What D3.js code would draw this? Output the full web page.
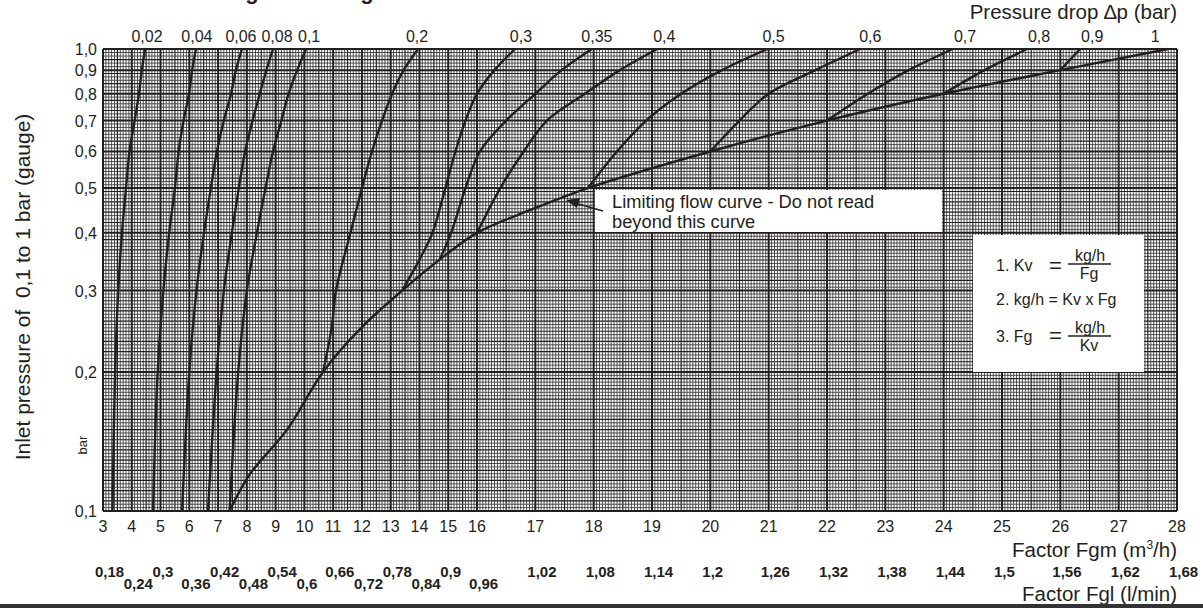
<!DOCTYPE html>
<html><head><meta charset="utf-8">
<script src="https://cdn.jsdelivr.net/npm/d3@7"></script>
<style>
body{margin:0;background:#fff}
text{font-family:"Liberation Sans",Arial,sans-serif;fill:#231f20}
</style>
</head><body>
<svg id="c" width="1203" height="608"></svg>
<script>
// ---------- data ----------
const fgmTicks = [3,4,5,6,7,8,9,10,11,12,13,14,15,16,17,18,19,20,21,22,23,24,25,26,27,28];
const fglLabels = ["0,18","0,24","0,3","0,36","0,42","0,48","0,54","0,6","0,66","0,72","0,78","0,84","0,9","0,96",
                   "1,02","1,08","1,14","1,2","1,26","1,32","1,38","1,44","1,5","1,56","1,62","1,68"];
const pTicks = [0.1,0.2,0.3,0.4,0.5,0.6,0.7,0.8,0.9,1.0];
const pLabels = ["0,1","0,2","0,3","0,4","0,5","0,6","0,7","0,8","0,9","1,0"];
const dpLabels = ["0,02","0,04","0,06","0,08","0,1","0,2","0,3","0,35","0,4","0,5","0,6","0,7","0,8","0,9","1"];

// each curve: inlet pressure values (bar) and Fgm values
const pFull = [1.0,0.9,0.8,0.7,0.6,0.5,0.4,0.3,0.2,0.1];
const dp002 = [4.46,4.35,4.25,4.1,3.92,3.8,3.66,3.53,3.42,3.33];
const dp004 = [6.23,6.1,5.99,5.8,5.63,5.5,5.3,5.1,4.9,4.74];
const dp006 = [7.83,7.62,7.45,7.2,6.96,6.75,6.51,6.25,6.0,5.75];
const dp008 = [8.91,8.68,8.45,8.2,7.94,7.72,7.48,7.2,6.95,6.65];
const dp01  = [10.06,9.75,9.45,9.2,8.91,8.65,8.35,8.0,7.7,7.4];
const dp02_p = [1.0,0.9,0.8,0.7,0.6,0.5,0.4,0.3,0.25,0.2];
const dp02   = [13.95,13.45,13.05,12.7,12.35,12.0,11.6,11.1,10.95,10.65];
const dp03_p = [1.0,0.9,0.8,0.7,0.6,0.5,0.4,0.35,0.3];
const dp03   = [16.65,16.3,16.0,15.6,15.25,14.9,14.45,14.0,13.4];
const dp035_p = [1.0,0.9,0.8,0.7,0.6,0.5,0.4,0.35];
const dp035   = [17.97,17.45,17.0,16.5,16.05,15.6,15.1,14.7];
const dp04_p = [1.0,0.9,0.8,0.7,0.6,0.5,0.4];
const dp04   = [19.09,18.45,17.85,17.2,16.8,16.4,16.0];
const dp05_p = [1.0,0.9,0.8,0.7,0.6,0.5];
const dp05   = [20.98,20.2,19.5,18.9,18.4,17.9];
const dp06_p = [1.0,0.9,0.8,0.7,0.6];
const dp06   = [22.57,21.8,21.0,20.5,20.0];
const dp07_p = [1.0,0.9,0.8,0.7];
const dp07   = [24.16,23.4,22.7,22.0];
const dp08_p = [1.0,0.9,0.8];
const dp08   = [25.43,24.7,24.0];
const dp09_p = [1.0,0.9];
const dp09   = [26.34,26.0];
const limit_p = [0.1,0.12,0.15,0.2,0.25,0.3,0.35,0.4,0.45,0.5,0.6,0.7,0.8,0.9,1.0];
const limit_f = [7.4,8.1,9.4,10.65,12.0,13.4,14.7,16.0,16.95,17.9,20.0,22.0,24.0,26.0,27.85];

// ---------- drawing ----------
const svg = d3.select("#c");
const ink = "#231f20";
const x = d3.scaleLinear().domain([3,16,28]).range([103,477,1177]);
const y = d3.scaleLog().domain([0.1,1]).range([511,49]);

// grid (graph-paper look)
const g = svg.append("g");
const vLines = [];
for (let i = 30; i <= 160; i++) vLines.push({v:i/10, w: i%10===0?2:(i%5===0?1.2:0.75)});
for (let i = 321; i <= 560; i++) vLines.push({v:i/20, w: i%20===0?2:(i%10===0?1.2:0.75)});
g.selectAll(".vl").data(vLines).join("line")
  .attr("x1",d=>x(d.v)).attr("x2",d=>x(d.v)).attr("y1",y(1)).attr("y2",y(0.1))
  .attr("stroke",ink).attr("stroke-width",d=>d.w);
const hLines = [];
for (let k = 0; k < pTicks.length - 1; k++) {
  const a = pTicks[k], b = pTicks[k+1];
  const n = Math.max(3, Math.round((y(a) - y(b)) / 3.4));
  for (let j = 1; j < n; j++) {
    const v = Math.exp(Math.log(a) + (Math.log(b) - Math.log(a)) * j / n);
    hLines.push({v, w: j % 3 === 0 ? 1.2 : 0.75});
  }
}
pTicks.forEach(v => hLines.push({v, w:2}));
g.selectAll(".hl").data(hLines).join("line")
  .attr("x1",x(3)).attr("x2",x(28)).attr("y1",d=>y(d.v)).attr("y2",d=>y(d.v))
  .attr("stroke",ink).attr("stroke-width",d=>d.w);

// curves
const curves = [
  [pFull,dp002],[pFull,dp004],[pFull,dp006],[pFull,dp008],[pFull,dp01],
  [dp02_p,dp02],[dp03_p,dp03],[dp035_p,dp035],[dp04_p,dp04],[dp05_p,dp05],
  [dp06_p,dp06],[dp07_p,dp07],[dp08_p,dp08],[dp09_p,dp09],[limit_p,limit_f]
];
const line = d3.line().x(d=>x(d[1])).y(d=>y(d[0])).curve(d3.curveCatmullRom.alpha(0.5));
svg.append("g").selectAll("path").data(curves).join("path")
  .attr("d",c=>line(c[0].map((p,i)=>[p,c[1][i]])))
  .attr("fill","none").attr("stroke",ink).attr("stroke-width",2.4);

// top labels (above the top end of each curve)
const topF = curves.slice(0,14).map(c=>c[1][0]).concat([limit_f[limit_f.length-1]]);
const labelNudge = [2,1,-1,4,3,-1,6,5,7,6,10,12,12,12,-13];
svg.append("g").selectAll("text").data(dpLabels).join("text")
  .attr("x",(d,i)=>x(topF[i]) + labelNudge[i]).attr("y",42)
  .attr("text-anchor","middle").attr("font-size",16).text(d=>d);
svg.append("text").attr("x",1177).attr("y",19).attr("text-anchor","end")
  .attr("font-size",20.5).text("Pressure drop \u2206p (bar)");

// left axis
svg.append("g").selectAll("text").data(pTicks).join("text")
  .attr("x",97).attr("y",d=>y(d)+6).attr("text-anchor","end").attr("font-size",16)
  .text((d,i)=>pLabels[i]);
svg.append("text").attr("transform","translate(30,287) rotate(-90)").attr("text-anchor","middle")
  .attr("font-size",21).attr("xml:space","preserve").text("Inlet pressure of  0,1 to 1 bar (gauge)");
svg.append("text").attr("transform","translate(87,445) rotate(-90)").attr("text-anchor","middle")
  .attr("font-size",13).text("bar");

// bottom axis
svg.append("g").selectAll("text").data(fgmTicks).join("text")
  .attr("x",d=>x(d)).attr("y",532).attr("text-anchor","middle").attr("font-size",16).text(d=>d);
svg.append("text").attr("x",1177).attr("y",557).attr("text-anchor","end").attr("font-size",20.5)
  .html('Factor Fgm (m<tspan dy="-8" font-size="12">3</tspan><tspan dy="8">/h)</tspan>');
svg.append("g").selectAll("text").data(fglLabels).join("text")
  .attr("x",(d,i)=>x(fgmTicks[i])-8)
  .attr("y",(d,i)=> (i<14 && i%2===1) ? 589 : 577)
  .attr("font-size",15).attr("font-weight","bold").text(d=>d);
svg.append("text").attr("x",1177).attr("y",601).attr("text-anchor","end").attr("font-size",20.5)
  .text("Factor Fgl (l/min)");
svg.append("rect").attr("x",0).attr("y",604).attr("width",1203).attr("height",4).attr("fill","#333");

// title (cut off at the top edge, as in the source)
svg.append("text").attr("x",194).attr("y",-1).attr("font-size",22).attr("font-weight","bold")
  .text("Sizing chart for gas");

// annotation box
svg.append("rect").attr("x",595).attr("y",190).attr("width",347).attr("height",42).attr("fill","#fff");
svg.append("text").attr("x",612).attr("y",208).attr("font-size",18.3).text("Limiting flow curve - Do not read");
svg.append("text").attr("x",612).attr("y",228).attr("font-size",18.3).text("beyond this curve");
svg.append("line").attr("x1",603).attr("y1",211).attr("x2",575).attr("y2",203).attr("stroke",ink).attr("stroke-width",1.5);
svg.append("path").attr("d","M566,200 L580,198 L577,208 Z").attr("fill",ink);

// formula box
const fb = svg.append("g");
fb.append("rect").attr("x",973).attr("y",235).attr("width",171).attr("height",137).attr("fill","#fff");
const fs = 16;
fb.append("text").attr("x",996).attr("y",271).attr("font-size",fs).text("1. Kv");
fb.append("text").attr("x",1049).attr("y",273).attr("font-size",22).text("=");
fb.append("text").attr("x",1090).attr("y",261).attr("text-anchor","middle").attr("font-size",fs).text("kg/h");
fb.append("line").attr("x1",1068).attr("x2",1111).attr("y1",264).attr("y2",264).attr("stroke",ink).attr("stroke-width",1.3);
fb.append("text").attr("x",1089).attr("y",279).attr("text-anchor","middle").attr("font-size",fs).text("Fg");
fb.append("text").attr("x",996).attr("y",305).attr("font-size",fs).text("2. kg/h = Kv x Fg");
fb.append("text").attr("x",996).attr("y",342).attr("font-size",fs).text("3. Fg");
fb.append("text").attr("x",1049).attr("y",343).attr("font-size",22).text("=");
fb.append("text").attr("x",1090).attr("y",333).attr("text-anchor","middle").attr("font-size",fs).text("kg/h");
fb.append("line").attr("x1",1068).attr("x2",1111).attr("y1",336).attr("y2",336).attr("stroke",ink).attr("stroke-width",1.3);
fb.append("text").attr("x",1089).attr("y",351).attr("text-anchor","middle").attr("font-size",fs).text("Kv");
</script>
</body></html>
